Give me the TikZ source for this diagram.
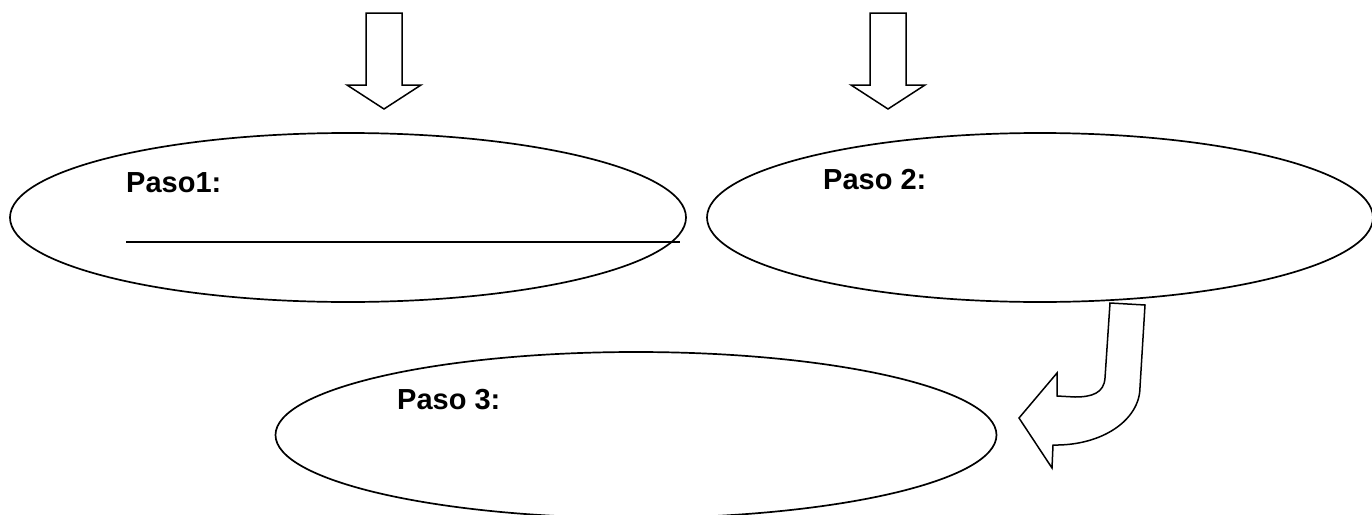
\documentclass[tikz,border=0pt]{standalone}
\usepackage{fontspec}
\setmainfont{Liberation Sans}
\usetikzlibrary{shapes.geometric}
\begin{document}
\begin{tikzpicture}[x=1pt,y=-1pt,
  oval/.style={draw,ellipse,line width=1.7pt,inner sep=0pt,outer sep=0pt},
  blockarrow/.style={draw,line width=1.5pt,line join=miter,fill=white},
  label/.style={font=\bfseries\fontsize{29}{32}\selectfont,anchor=base west,inner sep=0pt},
  writeline/.style={line width=1.4pt}]
\clip (0,0) rectangle (1372,514);
\fill[white] (0,0) rectangle (1372,514);
% ellipses
\node[oval,minimum width=676pt,minimum height=169pt] (e1) at (348,217.5) {};
\node[oval,minimum width=666pt,minimum height=169pt] (e2) at (1040,217.5) {};
\node[oval,minimum width=721pt,minimum height=166pt] (e3) at (636,435) {};
% labels
\node[label] (t1) at (126,192) {Paso1:};
\node[label] (t2) at (823,189) {Paso 2:};
\node[label] (t3) at (397,409) {Paso 3:};
% writing line
\coordinate (l1) at (126,242);
\coordinate (l2) at (680,242);
\draw[writeline] (l1) -- (l2);
% down arrows
\draw[blockarrow] (366,13) -- (402,13) -- (402,85) -- (421,85) -- (384,109) -- (347,85) -- (366,85) -- cycle;
\draw[blockarrow] (870,13) -- (906,13) -- (906,85) -- (925,85) -- (888,109) -- (851,85) -- (870,85) -- cycle;
% curved arrow
\draw[blockarrow] (1110,303) -- (1105,378)
  .. controls (1104,393) and (1092,397) .. (1075,397) -- (1057,396)
  -- (1057,373) -- (1019,418) -- (1052,468) -- (1053,445)
  .. controls (1102,446) and (1140,420) .. (1140,387) -- (1145,305) -- cycle;
\end{tikzpicture}
\end{document}
